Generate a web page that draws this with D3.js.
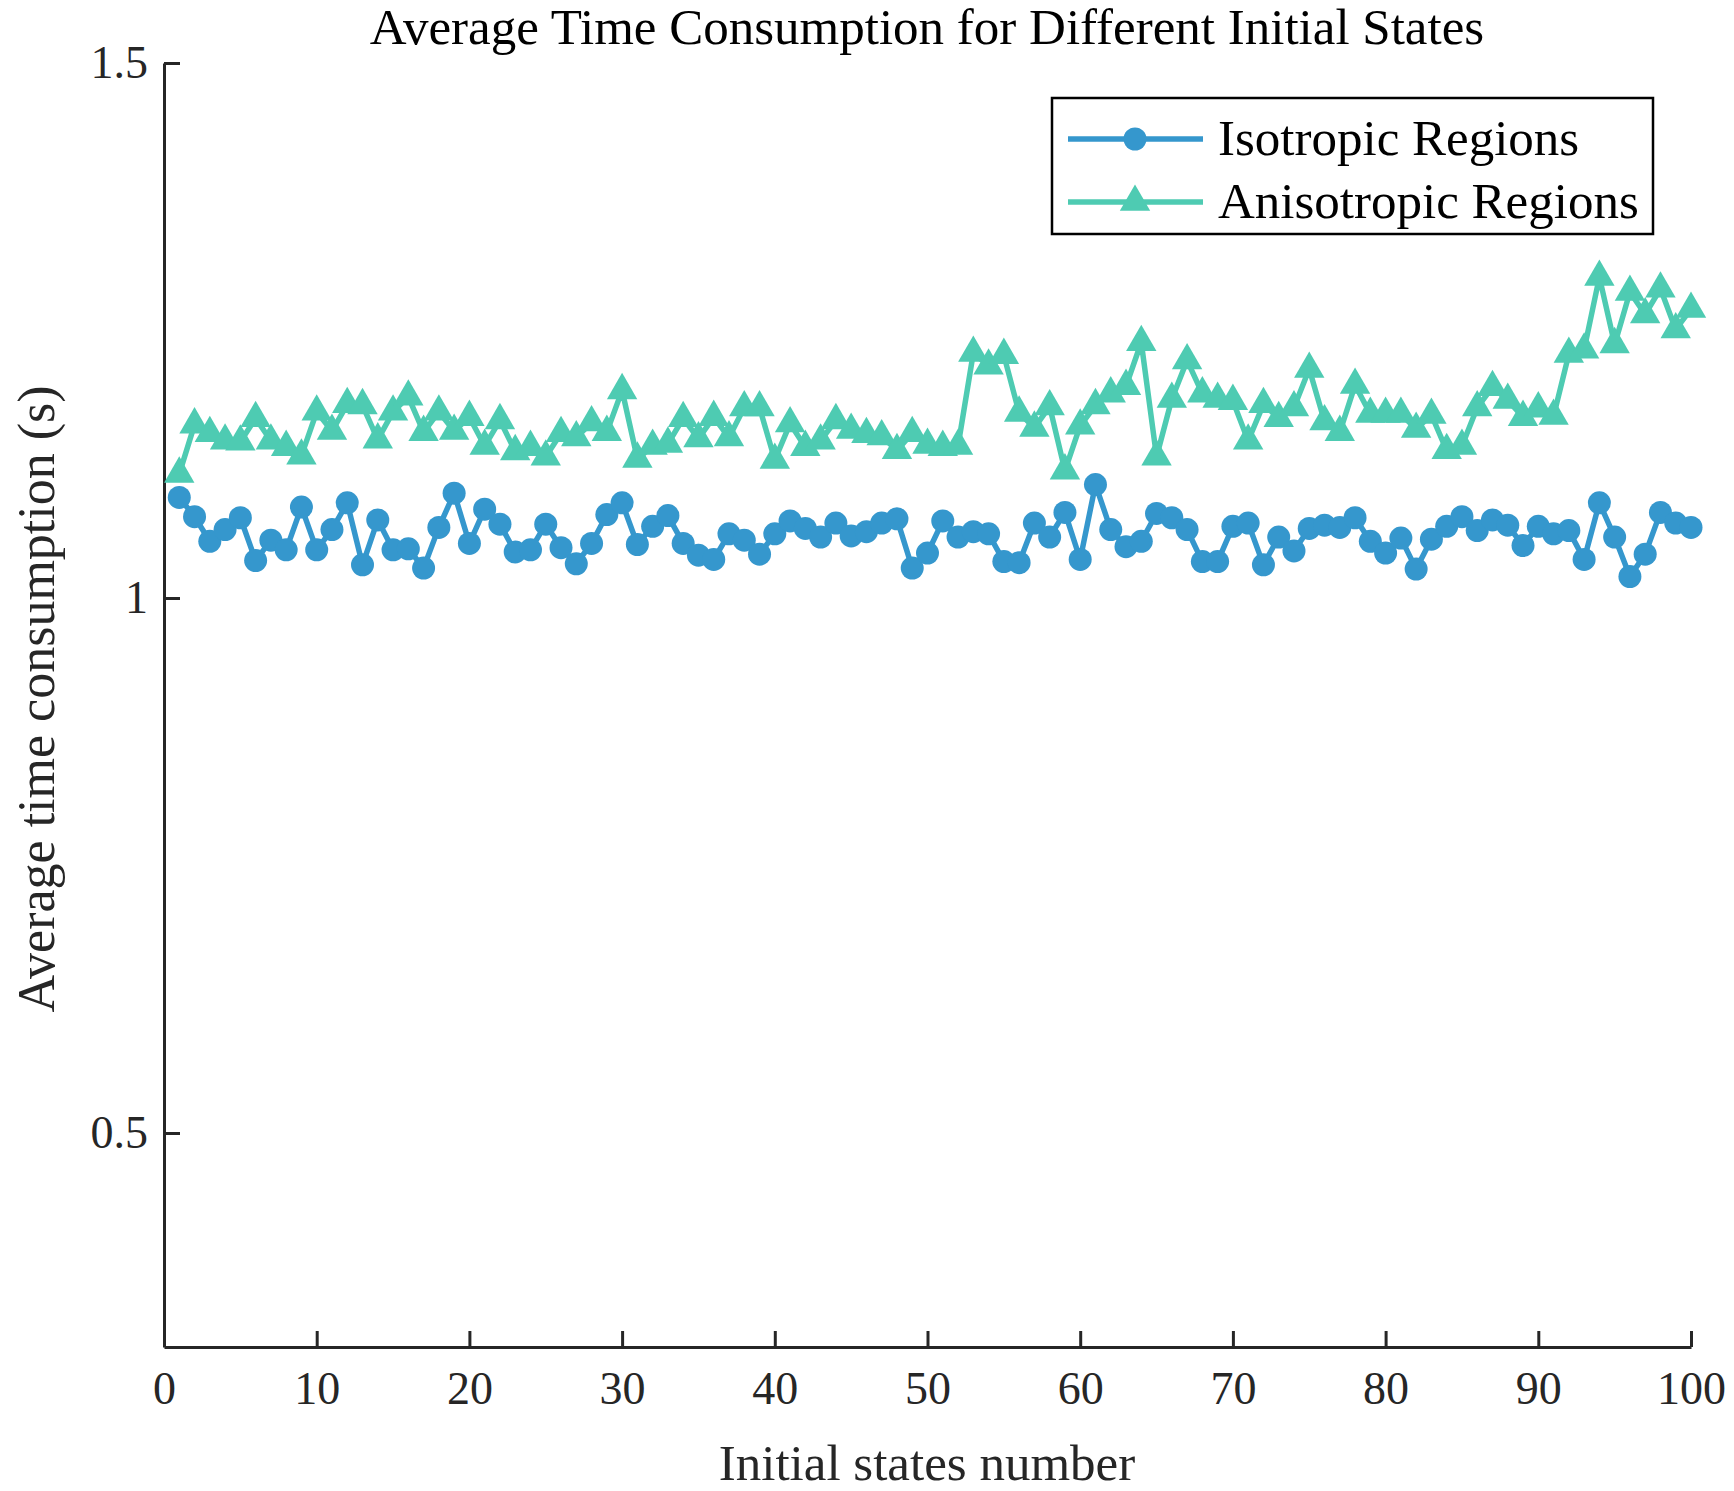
<!DOCTYPE html>
<html>
<head>
<meta charset="utf-8">
<script src="https://cdn.jsdelivr.net/npm/d3@7"></script>
<style>
  body { margin: 0; background: #fff; }
  text { font-family: "Liberation Serif", "Times New Roman", serif; fill: #262626; }
</style>
</head>
<body>
<div id="chart"></div>
<script>
// initial state numbers 1..100
const states = d3.range(1, 101);

const isotropic = [
  1.094, 1.076, 1.053, 1.064, 1.075, 1.035, 1.054, 1.045, 1.085, 1.045,
  1.064, 1.089, 1.031, 1.073, 1.045, 1.046, 1.028, 1.066, 1.098, 1.051,
  1.083, 1.069, 1.043, 1.045, 1.069, 1.047, 1.032, 1.051, 1.078, 1.089,
  1.050, 1.067, 1.077, 1.051, 1.040, 1.036, 1.060, 1.054, 1.041, 1.060,
  1.072, 1.065, 1.057, 1.070, 1.058, 1.062, 1.070, 1.074, 1.028, 1.042,
  1.072, 1.057, 1.062, 1.060, 1.034, 1.033, 1.070, 1.057, 1.080, 1.036,
  1.106, 1.064, 1.048, 1.053, 1.079, 1.075, 1.064, 1.034, 1.034, 1.067,
  1.070, 1.031, 1.057, 1.044, 1.065, 1.068, 1.066, 1.075, 1.053, 1.042,
  1.056, 1.027, 1.055, 1.067, 1.076, 1.063, 1.073, 1.068, 1.049, 1.067,
  1.060, 1.063, 1.036, 1.089, 1.057, 1.020, 1.041, 1.080, 1.070, 1.066
];

const anisotropic = [
  1.116, 1.162, 1.154, 1.147, 1.146, 1.168, 1.147, 1.141, 1.133, 1.174,
  1.156, 1.181, 1.180, 1.148, 1.174, 1.188, 1.155, 1.174, 1.156, 1.169,
  1.142, 1.166, 1.137, 1.141, 1.132, 1.154, 1.150, 1.164, 1.155, 1.194,
  1.130, 1.142, 1.144, 1.168, 1.149, 1.169, 1.150, 1.178, 1.178, 1.129,
  1.163, 1.141, 1.147, 1.166, 1.157, 1.153, 1.151, 1.138, 1.154, 1.143,
  1.141, 1.142, 1.229, 1.217, 1.227, 1.173, 1.159, 1.179, 1.119, 1.161,
  1.180, 1.191, 1.198, 1.239, 1.132, 1.186, 1.222, 1.191, 1.186, 1.184,
  1.147, 1.181, 1.168, 1.178, 1.214, 1.165, 1.155, 1.199, 1.172, 1.172,
  1.172, 1.158, 1.171, 1.138, 1.142, 1.178, 1.197, 1.185, 1.169, 1.177,
  1.170, 1.228, 1.232, 1.300, 1.237, 1.286, 1.265, 1.289, 1.251, 1.270
];

const xTicks = [0, 10, 20, 30, 40, 50, 60, 70, 80, 90, 100];
const yTicks = [0.5, 1, 1.5];
const seriesNames = ['Isotropic Regions', 'Anisotropic Regions'];

const width = 1734;
const height = 1491;
const blue = '#3597cd';
const teal = '#4ecbb2';
const axisColor = '#262626';

const svg = d3.select('#chart')
  .append('svg')
  .attr('width', width)
  .attr('height', height);

const x = d3.scaleLinear().domain([0, 100]).range([164, 1691]);
const y = d3.scaleLinear().domain([0.3, 1.5]).range([1347, 63]);

// axes, ticks pointing inward like matlab
const xAxis = svg.append('g')
  .attr('transform', `translate(0,${y(0.3)})`)
  .call(d3.axisBottom(x).tickValues(xTicks).tickSizeInner(-16).tickSizeOuter(0).tickPadding(24));

const yAxis = svg.append('g')
  .attr('transform', `translate(${x(0)},0)`)
  .call(d3.axisLeft(y).tickValues(yTicks).tickFormat(d3.format('')).tickSizeInner(-16).tickSizeOuter(0).tickPadding(16));

[xAxis, yAxis].forEach((g) => {
  g.select('.domain').attr('stroke', axisColor).attr('stroke-width', 3);
  g.selectAll('.tick line').attr('stroke', axisColor).attr('stroke-width', 3);
  g.selectAll('.tick text')
    .attr('font-size', 46)
    .attr('fill', axisColor)
    .style('font-family', '"Liberation Serif", serif');
});

// lines
const line = (vals) => d3.line()
  .x((d, i) => x(states[i]))
  .y((d) => y(d))(vals);

svg.append('path')
  .attr('d', line(isotropic))
  .attr('fill', 'none')
  .attr('stroke', blue)
  .attr('stroke-width', 5.5)
  .attr('stroke-linejoin', 'round');

svg.append('path')
  .attr('d', line(anisotropic))
  .attr('fill', 'none')
  .attr('stroke', teal)
  .attr('stroke-width', 5.5)
  .attr('stroke-linejoin', 'round');

const tri = d3.symbol().type(d3.symbolTriangle).size(400);

svg.append('g')
  .selectAll('path')
  .data(anisotropic)
  .join('path')
  .attr('d', tri)
  .attr('transform', (d, i) => `translate(${x(states[i])},${y(d)})`)
  .attr('fill', teal);

svg.append('g')
  .selectAll('circle')
  .data(isotropic)
  .join('circle')
  .attr('cx', (d, i) => x(states[i]))
  .attr('cy', (d) => y(d))
  .attr('r', 11.5)
  .attr('fill', blue);

// title and labels
svg.append('text')
  .attr('x', 927)
  .attr('y', 44)
  .attr('text-anchor', 'middle')
  .attr('font-size', 51)
  .style('fill', '#000')
  .text('Average Time Consumption for Different Initial States');

svg.append('text')
  .attr('x', 927)
  .attr('y', 1480)
  .attr('text-anchor', 'middle')
  .attr('font-size', 51)
  .text('Initial states number');

svg.append('text')
  .attr('transform', 'translate(54,699) rotate(-90)')
  .attr('text-anchor', 'middle')
  .attr('font-size', 52)
  .text('Average time consumption (s)');

// legend
const legend = svg.append('g');
legend.append('rect')
  .attr('x', 1052)
  .attr('y', 98)
  .attr('width', 601)
  .attr('height', 136)
  .attr('fill', '#fff')
  .attr('stroke', '#000')
  .attr('stroke-width', 2.5);

const legendRows = [
  { name: seriesNames[0], color: blue, cy: 139, marker: 'circle' },
  { name: seriesNames[1], color: teal, cy: 202, marker: 'triangle' }
];

legendRows.forEach((r) => {
  legend.append('line')
    .attr('x1', 1068).attr('x2', 1203)
    .attr('y1', r.cy).attr('y2', r.cy)
    .attr('stroke', r.color)
    .attr('stroke-width', 5.5);
  if (r.marker === 'circle') {
    legend.append('circle')
      .attr('cx', 1135).attr('cy', r.cy).attr('r', 11.5)
      .attr('fill', r.color);
  } else {
    legend.append('path')
      .attr('d', tri)
      .attr('transform', `translate(1135,${r.cy})`)
      .attr('fill', r.color);
  }
  legend.append('text')
    .attr('x', 1218)
    .attr('y', r.cy + 16)
    .attr('font-size', 51)
    .style('fill', '#000')
    .text(r.name);
});
</script>
</body>
</html>
